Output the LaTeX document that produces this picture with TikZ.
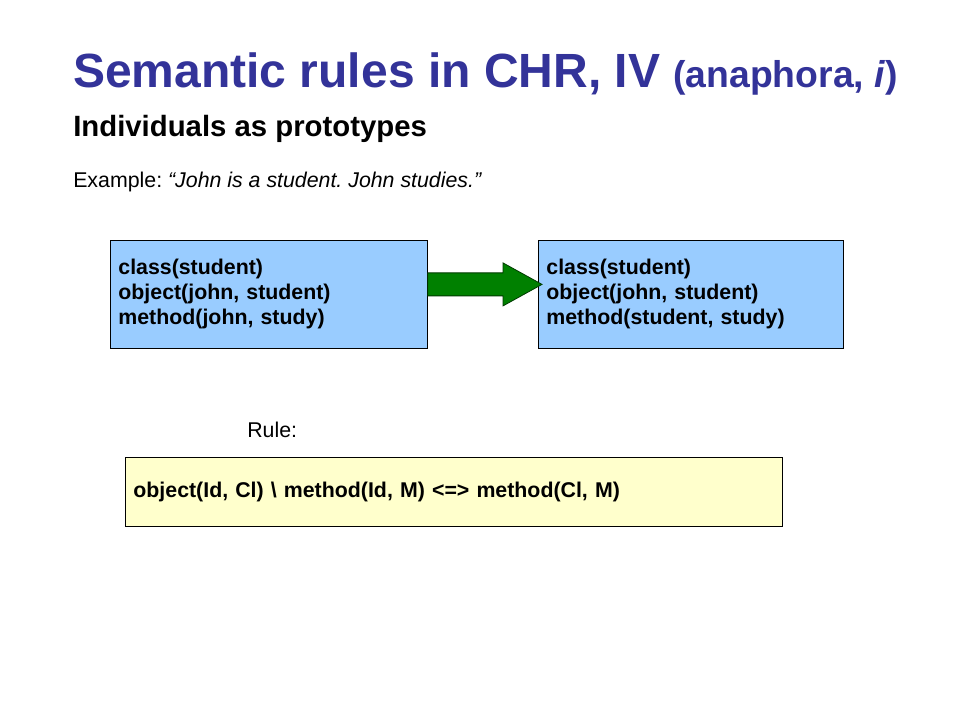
\documentclass[tikz,border=0pt]{standalone}
\usepackage{fontspec}
\setmainfont{Liberation Sans}
\usetikzlibrary{calc}
\definecolor{titleblue}{HTML}{333399}
\definecolor{boxblue}{HTML}{99CCFF}
\definecolor{ruleyellow}{HTML}{FFFFCC}
\definecolor{arrowgreen}{HTML}{008000}
\frenchspacing

\begin{document}
\begin{tikzpicture}[x=0.75pt,y=-0.75pt,
   factbox/.style={draw=black,line width=0.6pt,rectangle,align=left,inner xsep=6pt,
      minimum height=81pt,font=\fontsize{16}{18.75}\selectfont\bfseries},
   bigarrow/.style={fill=arrowgreen,draw=arrowgreen!45!black,line width=0.6pt}]
   \useasboundingbox[fill=white] (0,0) rectangle (960,720);
   \node[anchor=base west,inner sep=0pt,text=titleblue,font=\fontsize{36}{40}\selectfont\bfseries] (title) at (73,88)
      {Semantic rules in CHR, IV {\fontsize{28}{32}\selectfont (anaphora, \textit{i})}};
   \node[anchor=base west,inner sep=0pt,font=\fontsize{22}{26}\selectfont\bfseries] (sub) at (73,137) {Individuals as prototypes};
   \node[anchor=base west,inner sep=0pt,font=\fontsize{16}{19}\selectfont] (example) at (73,188) {Example: \textit{“John is a student. John studies.”}};
   \node[factbox,fill=boxblue,anchor=north west,text width=225.75pt] (before) at (110,240)
      {class(student)\\object(john, student)\\method(john, study)};
   \node[factbox,fill=boxblue,anchor=north west,text width=216.75pt] (after) at (538,240)
      {class(student)\\object(john, student)\\method(student, study)};
   \path (before.east) ++(0,-10) coordinate (tl) (after.west) ++(4,-10) coordinate (tp);
   \draw[bigarrow] ($(tl)+(0,-11.5)$) -- ($(tp)+(-39,-11.5)$) -- ($(tp)+(-39,-21.5)$) -- (tp)
      -- ($(tp)+(-39,21.5)$) -- ($(tp)+(-39,11.5)$) -- ($(tl)+(0,11.5)$) -- cycle;
   \node[anchor=base west,inner sep=0pt,font=\fontsize{16}{19}\selectfont] (rulelabel) at (247,437) {Rule:};
   \node[factbox,fill=ruleyellow,anchor=north west,minimum height=51.75pt,text width=480.75pt] (rule) at (125,457)
      {object(Id, Cl) \textbackslash{} method(Id, M) <=> method(Cl, M)};
\end{tikzpicture}
\end{document}
